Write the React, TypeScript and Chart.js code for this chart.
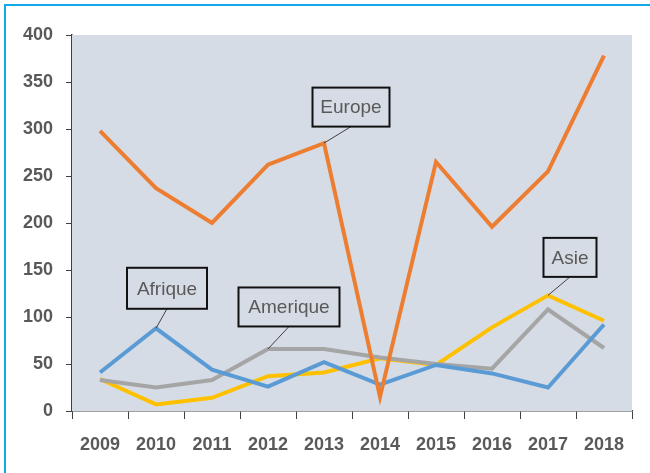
import React, { useEffect, useRef } from "react";
import { Chart, registerables } from "chart.js";

Chart.register(...registerables);

const years = ["2009", "2010", "2011", "2012", "2013", "2014", "2015", "2016", "2017", "2018"];
const europe = [298, 237, 200, 262, 285, 15, 265, 196, 255, 378];
const afrique = [41, 88, 44, 26, 52, 28, 49, 40, 25, 92];
const amerique = [33, 25, 33, 66, 66, 57, 50, 45, 108, 67];
const asie = [34, 7, 14, 37, 41, 56, 49, 89, 123, 96];
const seriesNames = ["Europe", "Afrique", "Amerique", "Asie"];
const yTicks = [0, 50, 100, 150, 200, 250, 300, 350, 400];

const colors = ["#ED7D31", "#5B9BD5", "#A5A5A5", "#FFC000"];
const plotBg = "#D6DCE5";
const textColor = "#595959";

// callouts: dataset index, data index, box offset from point (px), box size
const callouts = [
  { ds: 0, idx: 4, dx: 27, dy: -36, w: 77, h: 39 },
  { ds: 1, idx: 1, dx: 11, dy: -40, w: 80, h: 41 },
  { ds: 2, idx: 3, dx: 21, dy: -42, w: 101, h: 39 },
  { ds: 3, idx: 8, dx: 22, dy: -38, w: 53, h: 39 },
];

const bgPlugin = {
  id: "plotBg",
  beforeDatasetsDraw(chart: any) {
    const { ctx, chartArea } = chart;
    ctx.save();
    ctx.fillStyle = plotBg;
    ctx.fillRect(chartArea.left, chartArea.top, chartArea.right - chartArea.left, chartArea.bottom - chartArea.top);
    ctx.restore();
  },
};

const calloutPlugin = {
  id: "callouts",
  afterDatasetsDraw(chart: any) {
    const { ctx } = chart;
    ctx.save();
    callouts.forEach((c) => {
      const el = chart.getDatasetMeta(c.ds).data[c.idx];
      if (!el) return;
      const px = el.x;
      const py = el.y;
      const cx = px + c.dx;
      const cy = py + c.dy;
      ctx.strokeStyle = "#404040";
      ctx.lineWidth = 1;
      ctx.beginPath();
      ctx.moveTo(px, py);
      ctx.lineTo(cx, cy + c.h / 2);
      ctx.stroke();
      ctx.fillStyle = plotBg;
      ctx.fillRect(cx - c.w / 2, cy - c.h / 2, c.w, c.h);
      ctx.strokeStyle = "#111";
      ctx.lineWidth = 2;
      ctx.strokeRect(cx - c.w / 2, cy - c.h / 2, c.w, c.h);
      ctx.fillStyle = textColor;
      ctx.font = '19px "Liberation Sans", Arial, sans-serif';
      ctx.textAlign = "center";
      ctx.textBaseline = "middle";
      ctx.fillText(seriesNames[c.ds], cx, cy + 1);
    });
    ctx.restore();
  },
};

export default function App() {
  const ref = useRef<HTMLCanvasElement>(null);
  useEffect(() => {
    document.body.style.margin = "0";
    const all = [europe, afrique, amerique, asie];
    const chart = new Chart(ref.current!, {
      type: "line",
      data: {
        labels: years,
        datasets: all.map((d, i) => ({
          label: seriesNames[i],
          data: d,
          borderColor: colors[i],
          backgroundColor: colors[i],
          borderWidth: 4,
          pointRadius: 0,
          tension: 0,
          borderJoinStyle: "miter" as const,
        })),
      },
      options: {
        responsive: false,
        animation: false,
        layout: { padding: { top: 35, right: 18, left: 0, bottom: 0 } },
        plugins: { legend: { display: false }, tooltip: { enabled: false } },
        scales: {
          x: {
            offset: true,
            grid: { offset: true, drawOnChartArea: false, drawTicks: true, tickLength: 8, color: "#404040" },
            border: { display: true, color: "#404040", width: 1.5 },
            ticks: {
              color: textColor,
              padding: 15,
              maxRotation: 0,
              font: { family: '"Liberation Sans", Arial, sans-serif', size: 18, weight: "bold" },
            },
            afterFit(scale: any) {
              scale.height = 62;
            },
          },
          y: {
            min: 0,
            max: 400,
            afterBuildTicks(scale: any) {
              scale.ticks = yTicks.map((v) => ({ value: v }));
            },
            grid: { drawOnChartArea: false, drawTicks: true, tickLength: 6, color: "#404040" },
            border: { display: true, color: "#404040", width: 1.5 },
            ticks: {
              color: textColor,
              padding: 13,
              font: { family: '"Liberation Sans", Arial, sans-serif', size: 18, weight: "bold" },
            },
            afterFit(scale: any) {
              scale.width = 72;
            },
          },
        },
      },
      plugins: [bgPlugin, calloutPlugin],
    });
    return () => chart.destroy();
  }, []);
  return (
    <div style={{ position: "relative", width: 650, height: 473, background: "#fff", overflow: "hidden" }}>
      <canvas ref={ref} width={650} height={473} style={{ position: "absolute", left: 0, top: 0 }} />
      <div
        style={{
          position: "absolute",
          left: 4,
          top: 4,
          right: -4,
          bottom: -4,
          borderTop: "2px solid #12A9E8",
          borderLeft: "2px solid #12A9E8",
          pointerEvents: "none",
        }}
      />
    </div>
  );
}
